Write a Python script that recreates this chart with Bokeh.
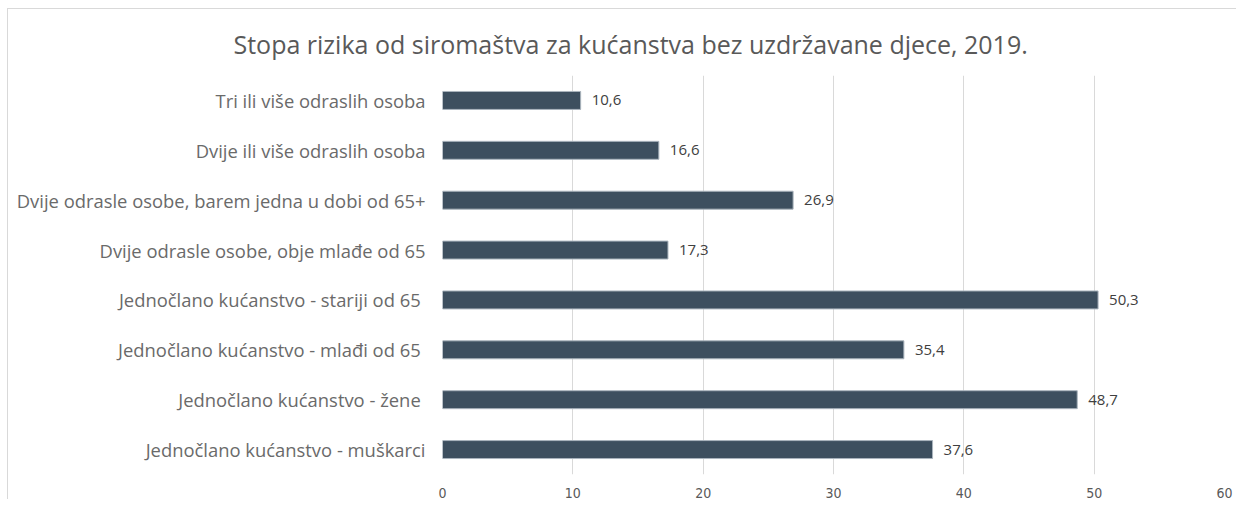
from bokeh.plotting import figure
from bokeh.models import ColumnDataSource, Title, FactorRange
from bokeh.core.properties import value
from bokeh.embed import file_html
from bokeh.resources import INLINE

categories = [
    "Tri ili više odraslih osoba",
    "Dvije ili više odraslih osoba",
    "Dvije odrasle osobe, barem jedna u dobi od 65+",
    "Dvije odrasle osobe, obje mlađe od 65",
    "Jednočlano kućanstvo - stariji od 65 ",
    "Jednočlano kućanstvo - mlađi od 65 ",
    "Jednočlano kućanstvo  - žene",
    "Jednočlano kućanstvo - muškarci",
]
values = [10.6, 16.6, 26.9, 17.3, 50.3, 35.4, 48.7, 37.6]
value_labels = ["10,6", "16,6", "26,9", "17,3", "50,3", "35,4", "48,7", "37,6"]
x_ticks = [0, 10, 20, 30, 40, 50, 60]
title_text = "Stopa rizika od siromaštva za kućanstva bez uzdržavane djece, 2019."

src = ColumnDataSource(dict(cat=categories, val=values, lab=value_labels))

p = figure(
    width=1229, height=491,
    y_range=FactorRange(factors=list(reversed(categories))),
    x_range=(0, 60),
    output_backend="svg", toolbar_location=None,
    min_border_left=434, min_border_right=13,
    min_border_top=66, min_border_bottom=10,
)
p.styles = {"border-left": "1px solid #d9d9d9", "border-top": "1px solid #d9d9d9",
            "margin-left": "7px", "margin-top": "8px"}
p.title = Title(text=title_text, align="left", offset=-209, standoff=29,
                text_font="Open Sans", text_font_size="25px",
                text_font_style="normal", text_color="#595959")

p.hbar(y="cat", right="val", left=0, height=0.36, source=src,
       fill_color="#3d4f5f", line_color="#aab4bd", line_width=1)

p.text(x="val", y="cat", text="lab", source=src, x_offset=11,
       text_baseline="middle", text_align="left",
       text_font=value("Open Sans"), text_font_size="15px", text_color="#404040")

p.outline_line_color = None
p.background_fill_color = "white"
p.border_fill_color = "white"

p.xgrid.grid_line_color = "#d9d9d9"
p.xgrid.grid_line_width = 1
p.ygrid.grid_line_color = None

p.xaxis.ticker = x_ticks
p.xaxis.axis_line_color = None
p.xaxis.major_tick_line_color = None
p.xaxis.minor_tick_line_color = None
p.xaxis.major_label_text_font = "DejaVu Sans Condensed"
p.xaxis.major_label_text_font_size = "14px"
p.xaxis.major_label_text_color = "#595959"
p.xaxis.major_label_standoff = 7

p.yaxis.axis_line_color = None
p.yaxis.major_tick_line_color = None
p.yaxis.minor_tick_line_color = None
p.yaxis.major_label_text_font = "Open Sans"
p.yaxis.major_label_text_font_size = "18.4px"
p.yaxis.major_label_text_color = "#6a6a6a"
p.yaxis.major_label_standoff = 11

open("out.html", "w").write(file_html(p, INLINE))
